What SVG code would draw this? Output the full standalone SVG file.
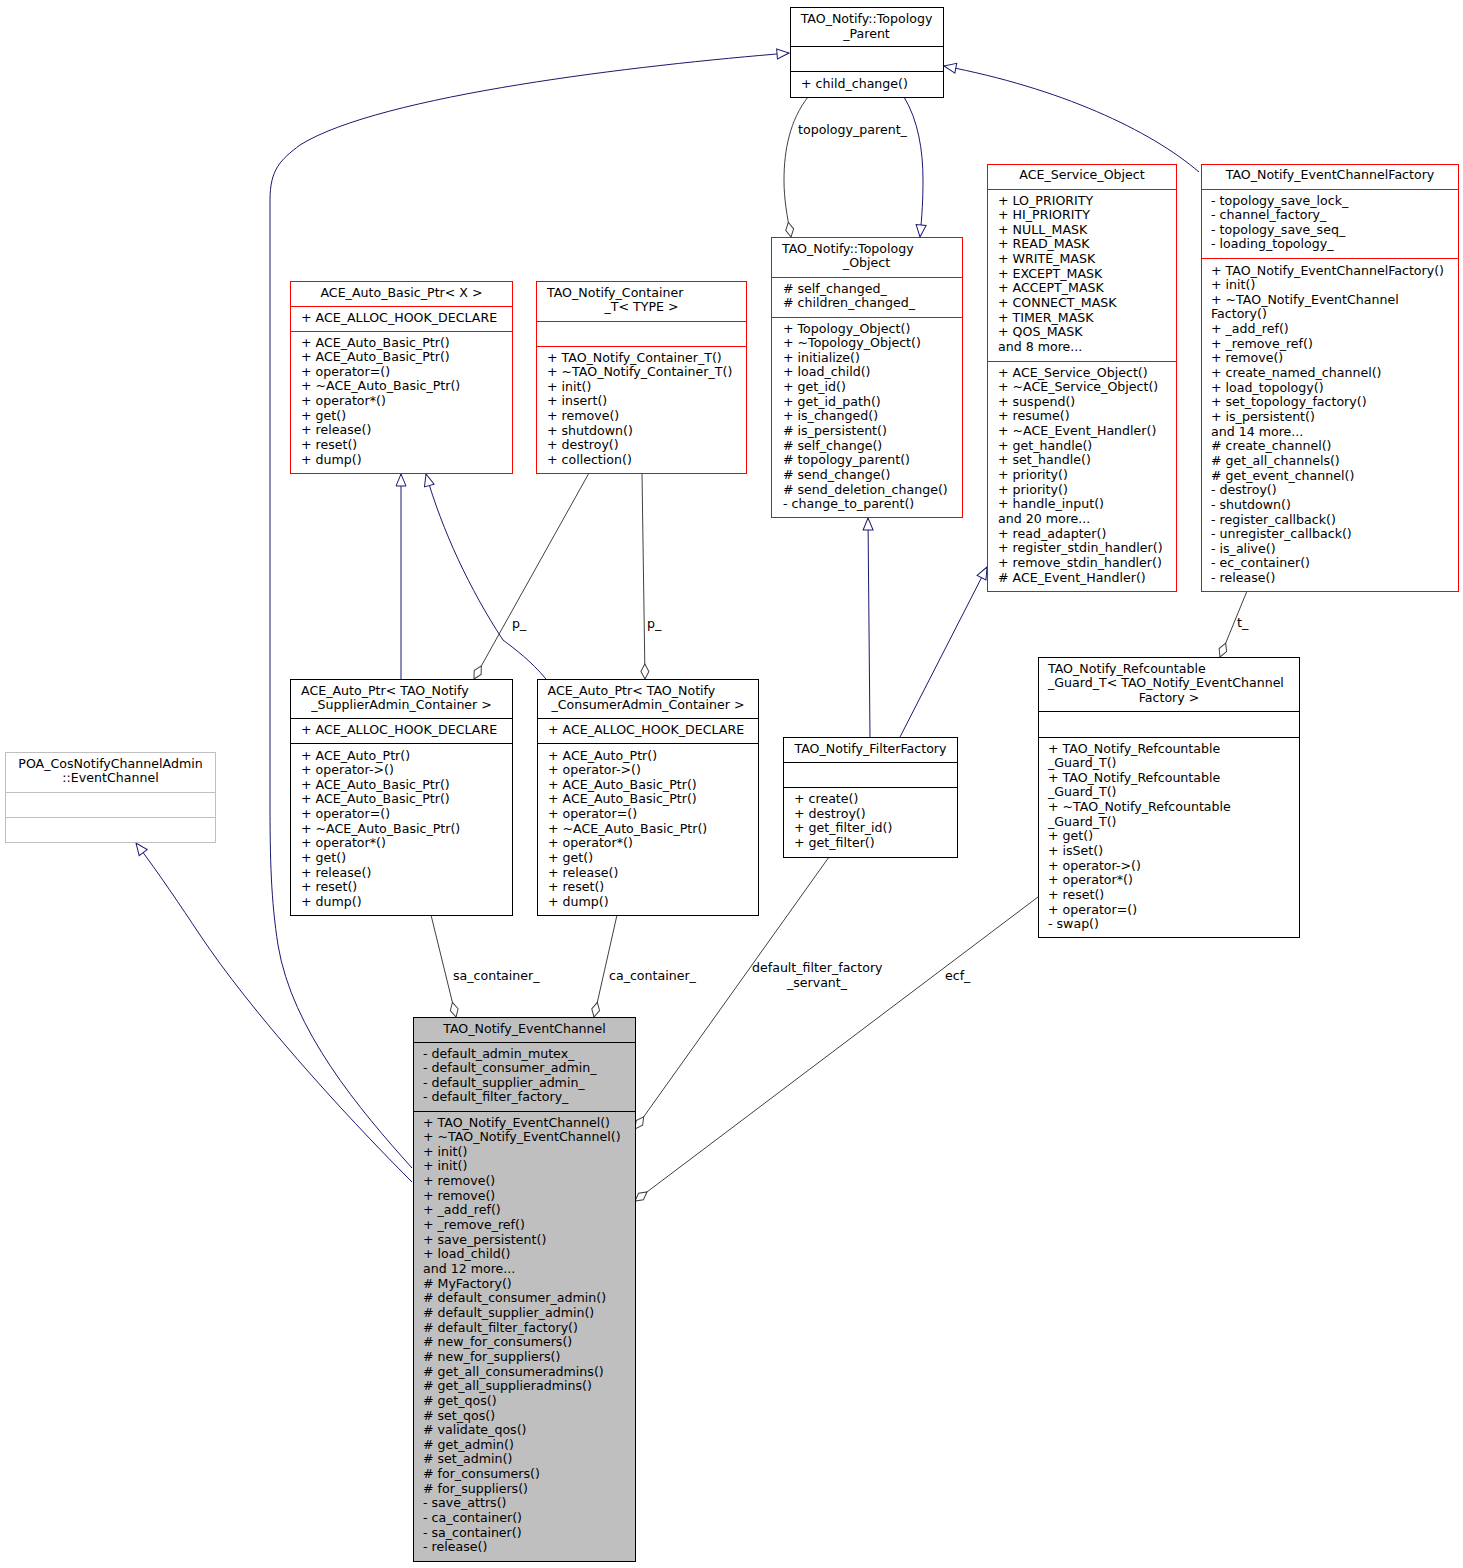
<svg xmlns="http://www.w3.org/2000/svg" width="1463" height="1568" viewBox="0 0 1463 1568">
<style>
text { font-family: "DejaVu Sans", "Liberation Sans", sans-serif; font-size: 12.6px; fill: #000; }
.c { text-anchor: middle; }
.bk { fill: #fff; stroke: #000; stroke-width: 1; }
.rd { fill: #fff; stroke: #ff0000; stroke-width: 1; }
.gy { fill: #fff; stroke: #bfbfbf; stroke-width: 1; }
.sel { fill: #bfbfbf; stroke: #000; stroke-width: 1; }
.sk { stroke: #000; stroke-width: 1; }
.sr { stroke: #ff0000; stroke-width: 1; }
.sg { stroke: #bfbfbf; stroke-width: 1; }
.inh { fill: none; stroke: #191970; stroke-width: 1; marker-end: url(#tri); }
.agg { fill: none; stroke: #404040; stroke-width: 1; marker-end: url(#dia); }
</style>
<defs>
<marker id="tri" markerUnits="userSpaceOnUse" markerWidth="14" markerHeight="12" refX="12" refY="5" orient="auto" overflow="visible">
<path d="M0,0 L12,5 L0,10 z" fill="#fff" stroke="#191970" stroke-width="1"/>
</marker>
<marker id="dia" markerUnits="userSpaceOnUse" markerWidth="16" markerHeight="10" refX="15" refY="4" orient="auto" overflow="visible">
<path d="M0,4 L7.5,0 L15,4 L7.5,8 z" fill="#fff" stroke="#404040" stroke-width="1"/>
</marker>
</defs>
<rect x="0" y="0" width="1463" height="1568" fill="#fff"/>

<g id="connectors">
<path class="inh" d="M412,1168 C360,1110 292,1030 278,945 C271,900 270,860 270,800 L270,200 C270,170 280,160 300,145 C380,95 640,65 789,53"/>
<path class="inh" d="M412,1182 C340,1110 250,1010 200,935 C180,905 160,875 136,843"/>
<path class="inh" d="M401,679 L401,474"/>
<path class="inh" d="M546,679 C530,660 516,650 503,640 C470,590 442,530 426,474"/>
<path class="agg" d="M589,473 L474,679"/>
<path class="agg" d="M642,473 L645,679"/>
<path class="agg" d="M808,97 C790,120 784,150 784,180 C784,200 787,215 791,237"/>
<path class="inh" d="M904,97 C918,120 923,150 923,180 C923,200 922,215 920,237"/>
<path class="inh" d="M1199,172 C1150,130 1060,88 944,66"/>
<path class="inh" d="M870,737 L868,518"/>
<path class="inh" d="M900,737 L987,567"/>
<path class="agg" d="M1247,591 L1220,657"/>
<path class="agg" d="M431,915 L456,1017"/>
<path class="agg" d="M617,915 L594,1017"/>
<path class="agg" d="M829,857 L635,1129"/>
<path class="agg" d="M1038,897 L635,1201"/>
<text x="798" y="134">topology_parent_</text>
<text x="512" y="628">p_</text>
<text x="647" y="628">p_</text>
<text x="1237" y="627">t_</text>
<text x="453" y="980">sa_container_</text>
<text x="609" y="980">ca_container_</text>
<text x="752" y="972">default_filter_factory</text>
<text x="817" y="987" class="c">_servant_</text>
<text x="945" y="980">ecf_</text>
</g>

<g id="node_topology_parent">
<rect class="bk" x="790.5" y="7.5" width="153" height="90"/>
<line class="sk" x1="790.5" y1="46.5" x2="943.5" y2="46.5"/>
<line class="sk" x1="790.5" y1="71.5" x2="943.5" y2="71.5"/>
<text class="c" x="866.5" y="23">TAO_Notify::Topology</text>
<text class="c" x="866.5" y="37.6">_Parent</text>
<text x="801" y="87.5">+ child_change()</text>
</g>

<g id="node_topology_object">
<rect class="rd" x="771.5" y="237.5" width="191" height="280"/>
<line class="sr" x1="771.5" y1="277.5" x2="962.5" y2="277.5"/>
<line class="sr" x1="771.5" y1="317.5" x2="962.5" y2="317.5"/>
<text x="782" y="252.5">TAO_Notify::Topology</text>
<text class="c" x="866.5" y="267">_Object</text>
<text x="783" y="292.5"># self_changed_<tspan x="783" dy="14.65"># children_changed_</tspan></text>
<text x="783" y="332.5">+ Topology_Object()<tspan x="783" dy="14.65">+ ~Topology_Object()</tspan><tspan x="783" dy="14.65">+ initialize()</tspan><tspan x="783" dy="14.65">+ load_child()</tspan><tspan x="783" dy="14.65">+ get_id()</tspan><tspan x="783" dy="14.65">+ get_id_path()</tspan><tspan x="783" dy="14.65">+ is_changed()</tspan><tspan x="783" dy="14.65"># is_persistent()</tspan><tspan x="783" dy="14.65"># self_change()</tspan><tspan x="783" dy="14.65"># topology_parent()</tspan><tspan x="783" dy="14.65"># send_change()</tspan><tspan x="783" dy="14.65"># send_deletion_change()</tspan><tspan x="783" dy="14.65">- change_to_parent()</tspan></text>
</g>

<g id="node_ace_service_object">
<rect class="rd" x="987.5" y="164.5" width="189" height="427"/>
<line class="sr" x1="987.5" y1="189.5" x2="1176.5" y2="189.5"/>
<line class="sr" x1="987.5" y1="361.5" x2="1176.5" y2="361.5"/>
<text class="c" x="1082" y="179">ACE_Service_Object</text>
<text x="998" y="204.5">+ LO_PRIORITY<tspan x="998" dy="14.65">+ HI_PRIORITY</tspan><tspan x="998" dy="14.65">+ NULL_MASK</tspan><tspan x="998" dy="14.65">+ READ_MASK</tspan><tspan x="998" dy="14.65">+ WRITE_MASK</tspan><tspan x="998" dy="14.65">+ EXCEPT_MASK</tspan><tspan x="998" dy="14.65">+ ACCEPT_MASK</tspan><tspan x="998" dy="14.65">+ CONNECT_MASK</tspan><tspan x="998" dy="14.65">+ TIMER_MASK</tspan><tspan x="998" dy="14.65">+ QOS_MASK</tspan><tspan x="998" dy="14.65">and 8 more...</tspan></text>
<text x="998" y="376.5">+ ACE_Service_Object()<tspan x="998" dy="14.65">+ ~ACE_Service_Object()</tspan><tspan x="998" dy="14.65">+ suspend()</tspan><tspan x="998" dy="14.65">+ resume()</tspan><tspan x="998" dy="14.65">+ ~ACE_Event_Handler()</tspan><tspan x="998" dy="14.65">+ get_handle()</tspan><tspan x="998" dy="14.65">+ set_handle()</tspan><tspan x="998" dy="14.65">+ priority()</tspan><tspan x="998" dy="14.65">+ priority()</tspan><tspan x="998" dy="14.65">+ handle_input()</tspan><tspan x="998" dy="14.65">and 20 more...</tspan><tspan x="998" dy="14.65">+ read_adapter()</tspan><tspan x="998" dy="14.65">+ register_stdin_handler()</tspan><tspan x="998" dy="14.65">+ remove_stdin_handler()</tspan><tspan x="998" dy="14.65"># ACE_Event_Handler()</tspan></text>
</g>

<g id="node_eventchannelfactory">
<rect class="rd" x="1201.5" y="164.5" width="257" height="427"/>
<line class="sr" x1="1201.5" y1="189.5" x2="1458.5" y2="189.5"/>
<line class="sr" x1="1201.5" y1="258.5" x2="1458.5" y2="258.5"/>
<text class="c" x="1330" y="179">TAO_Notify_EventChannelFactory</text>
<text x="1211" y="204.5">- topology_save_lock_<tspan x="1211" dy="14.65">- channel_factory_</tspan><tspan x="1211" dy="14.65">- topology_save_seq_</tspan><tspan x="1211" dy="14.65">- loading_topology_</tspan></text>
<text x="1211" y="274.5">+ TAO_Notify_EventChannelFactory()<tspan x="1211" dy="14.65">+ init()</tspan><tspan x="1211" dy="14.65">+ ~TAO_Notify_EventChannel</tspan><tspan x="1211" dy="14.65">Factory()</tspan><tspan x="1211" dy="14.65">+ _add_ref()</tspan><tspan x="1211" dy="14.65">+ _remove_ref()</tspan><tspan x="1211" dy="14.65">+ remove()</tspan><tspan x="1211" dy="14.65">+ create_named_channel()</tspan><tspan x="1211" dy="14.65">+ load_topology()</tspan><tspan x="1211" dy="14.65">+ set_topology_factory()</tspan><tspan x="1211" dy="14.65">+ is_persistent()</tspan><tspan x="1211" dy="14.65">and 14 more...</tspan><tspan x="1211" dy="14.65"># create_channel()</tspan><tspan x="1211" dy="14.65"># get_all_channels()</tspan><tspan x="1211" dy="14.65"># get_event_channel()</tspan><tspan x="1211" dy="14.65">- destroy()</tspan><tspan x="1211" dy="14.65">- shutdown()</tspan><tspan x="1211" dy="14.65">- register_callback()</tspan><tspan x="1211" dy="14.65">- unregister_callback()</tspan><tspan x="1211" dy="14.65">- is_alive()</tspan><tspan x="1211" dy="14.65">- ec_container()</tspan><tspan x="1211" dy="14.65">- release()</tspan></text>
</g>

<g id="node_ace_auto_basic_ptr">
<rect class="rd" x="290.5" y="281.5" width="222" height="192"/>
<line class="sr" x1="290.5" y1="306.5" x2="512.5" y2="306.5"/>
<line class="sr" x1="290.5" y1="331.5" x2="512.5" y2="331.5"/>
<text class="c" x="401.5" y="296.5">ACE_Auto_Basic_Ptr&lt; X &gt;</text>
<text x="301" y="321.5">+ ACE_ALLOC_HOOK_DECLARE</text>
<text x="301" y="346.5">+ ACE_Auto_Basic_Ptr()<tspan x="301" dy="14.65">+ ACE_Auto_Basic_Ptr()</tspan><tspan x="301" dy="14.65">+ operator=()</tspan><tspan x="301" dy="14.65">+ ~ACE_Auto_Basic_Ptr()</tspan><tspan x="301" dy="14.65">+ operator*()</tspan><tspan x="301" dy="14.65">+ get()</tspan><tspan x="301" dy="14.65">+ release()</tspan><tspan x="301" dy="14.65">+ reset()</tspan><tspan x="301" dy="14.65">+ dump()</tspan></text>
</g>

<g id="node_container_t">
<rect class="rd" x="536.5" y="281.5" width="210" height="192"/>
<line class="sr" x1="536.5" y1="321.5" x2="746.5" y2="321.5"/>
<line class="sr" x1="536.5" y1="346.5" x2="746.5" y2="346.5"/>
<text x="547" y="296.5">TAO_Notify_Container</text>
<text class="c" x="641.5" y="311">_T&lt; TYPE &gt;</text>
<text x="547" y="361.5">+ TAO_Notify_Container_T()<tspan x="547" dy="14.65">+ ~TAO_Notify_Container_T()</tspan><tspan x="547" dy="14.65">+ init()</tspan><tspan x="547" dy="14.65">+ insert()</tspan><tspan x="547" dy="14.65">+ remove()</tspan><tspan x="547" dy="14.65">+ shutdown()</tspan><tspan x="547" dy="14.65">+ destroy()</tspan><tspan x="547" dy="14.65">+ collection()</tspan></text>
</g>

<g id="node_auto_ptr_supplier">
<rect class="bk" x="290.5" y="679.5" width="222" height="236"/>
<line class="sk" x1="290.5" y1="718.5" x2="512.5" y2="718.5"/>
<line class="sk" x1="290.5" y1="743.5" x2="512.5" y2="743.5"/>
<text x="301" y="694.5">ACE_Auto_Ptr&lt; TAO_Notify</text>
<text class="c" x="401.5" y="709">_SupplierAdmin_Container &gt;</text>
<text x="301" y="734">+ ACE_ALLOC_HOOK_DECLARE</text>
<text x="301" y="759.5">+ ACE_Auto_Ptr()<tspan x="301" dy="14.65">+ operator-&gt;()</tspan><tspan x="301" dy="14.65">+ ACE_Auto_Basic_Ptr()</tspan><tspan x="301" dy="14.65">+ ACE_Auto_Basic_Ptr()</tspan><tspan x="301" dy="14.65">+ operator=()</tspan><tspan x="301" dy="14.65">+ ~ACE_Auto_Basic_Ptr()</tspan><tspan x="301" dy="14.65">+ operator*()</tspan><tspan x="301" dy="14.65">+ get()</tspan><tspan x="301" dy="14.65">+ release()</tspan><tspan x="301" dy="14.65">+ reset()</tspan><tspan x="301" dy="14.65">+ dump()</tspan></text>
</g>

<g id="node_auto_ptr_consumer">
<rect class="bk" x="537.5" y="679.5" width="221" height="236"/>
<line class="sk" x1="537.5" y1="718.5" x2="758.5" y2="718.5"/>
<line class="sk" x1="537.5" y1="743.5" x2="758.5" y2="743.5"/>
<text x="547.5" y="694.5">ACE_Auto_Ptr&lt; TAO_Notify</text>
<text class="c" x="648" y="709">_ConsumerAdmin_Container &gt;</text>
<text x="548" y="734">+ ACE_ALLOC_HOOK_DECLARE</text>
<text x="548" y="759.5">+ ACE_Auto_Ptr()<tspan x="548" dy="14.65">+ operator-&gt;()</tspan><tspan x="548" dy="14.65">+ ACE_Auto_Basic_Ptr()</tspan><tspan x="548" dy="14.65">+ ACE_Auto_Basic_Ptr()</tspan><tspan x="548" dy="14.65">+ operator=()</tspan><tspan x="548" dy="14.65">+ ~ACE_Auto_Basic_Ptr()</tspan><tspan x="548" dy="14.65">+ operator*()</tspan><tspan x="548" dy="14.65">+ get()</tspan><tspan x="548" dy="14.65">+ release()</tspan><tspan x="548" dy="14.65">+ reset()</tspan><tspan x="548" dy="14.65">+ dump()</tspan></text>
</g>

<g id="node_poa_eventchannel">
<rect class="gy" x="5.5" y="752.5" width="210" height="90"/>
<line class="sg" x1="5.5" y1="792.5" x2="215.5" y2="792.5"/>
<line class="sg" x1="5.5" y1="817.5" x2="215.5" y2="817.5"/>
<text class="c" x="110.5" y="767.5">POA_CosNotifyChannelAdmin</text>
<text class="c" x="110.5" y="782">::EventChannel</text>
</g>

<g id="node_filterfactory">
<rect class="bk" x="783.5" y="737.5" width="174" height="120"/>
<line class="sk" x1="783.5" y1="762.5" x2="957.5" y2="762.5"/>
<line class="sk" x1="783.5" y1="787.5" x2="957.5" y2="787.5"/>
<text class="c" x="870.5" y="752.5">TAO_Notify_FilterFactory</text>
<text x="794" y="803">+ create()<tspan x="794" dy="14.65">+ destroy()</tspan><tspan x="794" dy="14.65">+ get_filter_id()</tspan><tspan x="794" dy="14.65">+ get_filter()</tspan></text>
</g>

<g id="node_refcountable_guard">
<rect class="bk" x="1038.5" y="657.5" width="261" height="280"/>
<line class="sk" x1="1038.5" y1="711.5" x2="1299.5" y2="711.5"/>
<line class="sk" x1="1038.5" y1="737.5" x2="1299.5" y2="737.5"/>
<text x="1048" y="672.5">TAO_Notify_Refcountable</text>
<text x="1048" y="687">_Guard_T&lt; TAO_Notify_EventChannel</text>
<text class="c" x="1169" y="701.5">Factory &gt;</text>
<text x="1048" y="752.5">+ TAO_Notify_Refcountable<tspan x="1048" dy="14.65">_Guard_T()</tspan><tspan x="1048" dy="14.65">+ TAO_Notify_Refcountable</tspan><tspan x="1048" dy="14.65">_Guard_T()</tspan><tspan x="1048" dy="14.65">+ ~TAO_Notify_Refcountable</tspan><tspan x="1048" dy="14.65">_Guard_T()</tspan><tspan x="1048" dy="14.65">+ get()</tspan><tspan x="1048" dy="14.65">+ isSet()</tspan><tspan x="1048" dy="14.65">+ operator-&gt;()</tspan><tspan x="1048" dy="14.65">+ operator*()</tspan><tspan x="1048" dy="14.65">+ reset()</tspan><tspan x="1048" dy="14.65">+ operator=()</tspan><tspan x="1048" dy="14.65">- swap()</tspan></text>
</g>

<g id="node_eventchannel">
<rect class="sel" x="413.5" y="1017.5" width="222" height="544"/>
<line class="sk" x1="413.5" y1="1042.5" x2="635.5" y2="1042.5"/>
<line class="sk" x1="413.5" y1="1111.5" x2="635.5" y2="1111.5"/>
<text class="c" x="524.5" y="1032.5">TAO_Notify_EventChannel</text>
<text x="423" y="1057.5">- default_admin_mutex_<tspan x="423" dy="14.65">- default_consumer_admin_</tspan><tspan x="423" dy="14.65">- default_supplier_admin_</tspan><tspan x="423" dy="14.65">- default_filter_factory_</tspan></text>
<text x="423" y="1126.5">+ TAO_Notify_EventChannel()<tspan x="423" dy="14.65">+ ~TAO_Notify_EventChannel()</tspan><tspan x="423" dy="14.65">+ init()</tspan><tspan x="423" dy="14.65">+ init()</tspan><tspan x="423" dy="14.65">+ remove()</tspan><tspan x="423" dy="14.65">+ remove()</tspan><tspan x="423" dy="14.65">+ _add_ref()</tspan><tspan x="423" dy="14.65">+ _remove_ref()</tspan><tspan x="423" dy="14.65">+ save_persistent()</tspan><tspan x="423" dy="14.65">+ load_child()</tspan><tspan x="423" dy="14.65">and 12 more...</tspan><tspan x="423" dy="14.65"># MyFactory()</tspan><tspan x="423" dy="14.65"># default_consumer_admin()</tspan><tspan x="423" dy="14.65"># default_supplier_admin()</tspan><tspan x="423" dy="14.65"># default_filter_factory()</tspan><tspan x="423" dy="14.65"># new_for_consumers()</tspan><tspan x="423" dy="14.65"># new_for_suppliers()</tspan><tspan x="423" dy="14.65"># get_all_consumeradmins()</tspan><tspan x="423" dy="14.65"># get_all_supplieradmins()</tspan><tspan x="423" dy="14.65"># get_qos()</tspan><tspan x="423" dy="14.65"># set_qos()</tspan><tspan x="423" dy="14.65"># validate_qos()</tspan><tspan x="423" dy="14.65"># get_admin()</tspan><tspan x="423" dy="14.65"># set_admin()</tspan><tspan x="423" dy="14.65"># for_consumers()</tspan><tspan x="423" dy="14.65"># for_suppliers()</tspan><tspan x="423" dy="14.65">- save_attrs()</tspan><tspan x="423" dy="14.65">- ca_container()</tspan><tspan x="423" dy="14.65">- sa_container()</tspan><tspan x="423" dy="14.65">- release()</tspan></text>
</g>
</svg>
